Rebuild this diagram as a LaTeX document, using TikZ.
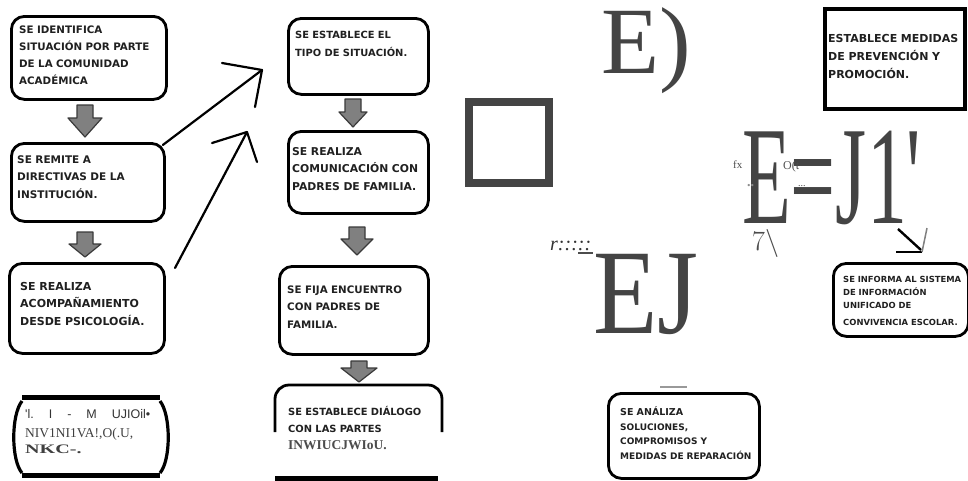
\documentclass[tikz,border=0pt]{standalone}
\usepackage{graphicx}
\usepackage{fontspec}
\newfontfamily\boxfont{DejaVu Sans}
\newfontfamily\timesfont{Liberation Serif}
\newfontfamily\arialfont{Liberation Sans}
\definecolor{ink}{HTML}{202020}
\definecolor{biggray}{HTML}{444444}
\definecolor{arrowfill}{HTML}{808080}
\definecolor{arrowedge}{HTML}{3A3A3A}
\newcommand\blockarrow[6]{\path[blk] (#1-#5,#2) -- (#1+#5,#2) -- (#1+#5,#3) -- (#1+#6,#3) -- (#1,#4) -- (#1-#6,#3) -- (#1-#5,#3) -- cycle;}
\begin{document}
\begin{tikzpicture}[x=1pt,y=-1pt,
  roundbox/.style={draw=black, line width=2.8pt, rounded corners=13pt, inner sep=0pt, anchor=north west},
  txt/.style 2 args={anchor=base west, inner sep=0pt, text width=200pt, align=left, text=ink, font=\boxfont\bfseries\fontsize{#1}{#2}\selectfont},
  blk/.style={fill=arrowfill, draw=arrowedge, line width=1.2pt, line join=round},
  openarrow/.style={draw=black, line width=2.2pt, line cap=round, line join=round},
  bigtxt/.style={anchor=base west, inner sep=0pt, text=biggray},
  smalltxt/.style={anchor=base west, inner sep=0pt},
]
\useasboundingbox (0,0) rectangle (968,480);
\fill[white] (0,0) rectangle (968,480);

% ---------- left column ----------
\node[roundbox, minimum width=155pt, minimum height=83pt] (b1) at (10,15) {};
\node[txt={10.3}{17}] (t1) at (19,33) {SE IDENTIFICA\\SITUACIÓN POR PARTE\\DE LA COMUNIDAD\\ACADÉMICA};
\node[roundbox, minimum width=153pt, minimum height=78pt] (b2) at (10,142) {};
\node[txt={10.5}{17.5}] (t2) at (17,163) {SE REMITE A\\DIRECTIVAS DE LA\\INSTITUCIÓN.};
\node[roundbox, minimum width=155pt, minimum height=90pt] (b3) at (8,262) {};
\node[txt={11}{17.5}] (t3) at (20,290) {SE REALIZA\\ACOMPAÑAMIENTO\\DESDE PSICOLOGÍA.};

\blockarrow{85}{105}{118}{137}{8}{17}
\blockarrow{85}{232}{244}{257}{8}{16}

% bracket box bottom left
\draw[line width=5pt] (22,397) -- (160,397);
\draw[line width=5pt] (22,475) -- (160,475);
\draw[line width=3.2pt] (22,401) .. controls (11,415) and (11,460) .. (22,473);
\draw[line width=3.2pt] (160,401) .. controls (171,415) and (171,460) .. (160,473);
\node[smalltxt, text=black!80, font=\arialfont\fontsize{12.5}{12.5}\selectfont] (g1) at (25,418) {'l.\hspace{15pt}I\hspace{15pt}-\hspace{15pt}M\hspace{15pt}UJIOil•};
\node[smalltxt, text=black!75, font=\timesfont\fontsize{13.5}{13.5}\selectfont] (g2) at (25,437) {NIV1NI1VA!,O(.U,};
\node[smalltxt, text=black!75, font=\timesfont\bfseries\fontsize{13}{13}\selectfont] (g3) at (25,453) {\scalebox{1.55}[1]{NKC-.}};

% open arrows
\coordinate (tA) at (262,70);
\coordinate (tB) at (247,132);
\coordinate (sB) at (175,268);
\draw[openarrow] ([shift={(-3,3)}]b2.north east) -- (tA);
\draw[openarrow] (tA) ++(-40,-7) -- (tA) -- ++(-7,37);
\draw[openarrow] (sB) -- (tB);
\draw[openarrow] (tB) ++(-35,11) -- (tB) -- ++(10,30);

% ---------- middle column ----------
\node[roundbox, minimum width=140pt, minimum height=76pt] (b5) at (287,17) {};
\node[txt={9.9}{18}] (t5) at (295,38) {SE ESTABLECE EL\\TIPO DE SITUACIÓN.};
\node[roundbox, minimum width=140pt, minimum height=82pt] (b6) at (287,130) {};
\node[txt={10.8}{17.5}] (t6) at (292,155) {SE REALIZA\\COMUNICACIÓN CON\\PADRES DE FAMILIA.};
\node[roundbox, minimum width=149pt, minimum height=88pt] (b7) at (278,265) {};
\node[txt={10.3}{17.5}] (t7) at (287,293) {SE FIJA ENCUENTRO\\CON PADRES DE\\FAMILIA.};
\draw[line width=2.8pt, rounded corners=14pt] (275,432) -- (275,385) -- (442,385) -- (442,432);
\draw[line width=5pt] (275,478) -- (438,478);
\node[txt={9.9}{17}] (t8) at (288,415) {SE ESTABLECE DIÁLOGO\\CON LAS PARTES};
\node[smalltxt, text=black!70, font=\timesfont\bfseries\fontsize{13.5}{13.5}\selectfont] (t8b) at (288,449) {INWIUCJWIoU.};

\blockarrow{353}{99}{112}{127}{8}{14}
\blockarrow{357}{227}{239}{255}{8}{16}
\blockarrow{359}{361}{368}{382}{8}{18}

% ---------- right part ----------
\node[bigtxt, font=\timesfont\fontsize{95}{95}\selectfont] (e1) at (601,73) {E)};
\draw[line width=8pt, draw=biggray] (469,102) rectangle (549,183);
\node[draw=black, line width=4pt, minimum width=140pt, minimum height=100pt, inner sep=0pt, anchor=north west] (b9) at (823,7) {};
\node[txt={11}{18}] (t9) at (828,42) {ESTABLECE MEDIDAS\\DE PREVENCIÓN Y\\PROMOCIÓN.};

\node[bigtxt] (e2) at (742,223) {\scalebox{0.57}[1]{\timesfont\fontsize{140}{140}\selectfont E=J1\textquotesingle}};
\node[smalltxt, text=black!70, font=\timesfont\fontsize{11}{11}\selectfont] (fx) at (733,168) {fx};
\node[smalltxt, text=black!70, font=\timesfont\fontsize{12}{12}\selectfont] (ot) at (783,169) {O(t};
\node[smalltxt, text=black!70, font=\timesfont\fontsize{10}{10}\selectfont] (dd1) at (798,186) {...};
\node[smalltxt, text=black!45, font=\timesfont\bfseries\fontsize{14}{14}\selectfont] (dd2) at (747,186) {..};
\node[smalltxt, text=black!70, font=\rmfamily\fontsize{28}{28}\selectfont] (sv) at (752,250) {7\textbackslash};
\node[smalltxt, text=black!80, font=\timesfont\itshape\fontsize{20}{20}\selectfont] (rr) at (550,250) {r:::::};
\draw[line width=1.2pt, black!70] (578,253) -- (593,253);
\node[bigtxt] (e3) at (593,333) {\scalebox{0.87}[1]{\timesfont\fontsize{121}{121}\selectfont EJ}};

\draw[line width=2.4pt] (898,229) -- (921,250);
\draw[line width=2.4pt] (896,252) -- (922,252);
\draw[line width=1.5pt, black!50] (922,252) -- (927,228);

\node[roundbox, minimum width=135pt, minimum height=73pt] (b10) at (832,262) {};
\node[txt={8.4}{13}] (t10) at (843,282) {SE INFORMA AL SISTEMA\\DE INFORMACIÓN\\UNIFICADO DE\\[4pt]CONVIVENCIA ESCOLAR.};

\draw[line width=2pt, black!40] (660,387) -- (687,387);
\node[roundbox, minimum width=151pt, minimum height=85pt] (b11) at (607,392) {};
\node[txt={9.5}{14}] (t11a) at (620,415) {SE ANÁLIZA};
\node[txt={9}{14.5}] (t11) at (620,430) {SOLUCIONES,\\COMPROMISOS Y\\MEDIDAS DE REPARACIÓN};
\end{tikzpicture}
\end{document}
